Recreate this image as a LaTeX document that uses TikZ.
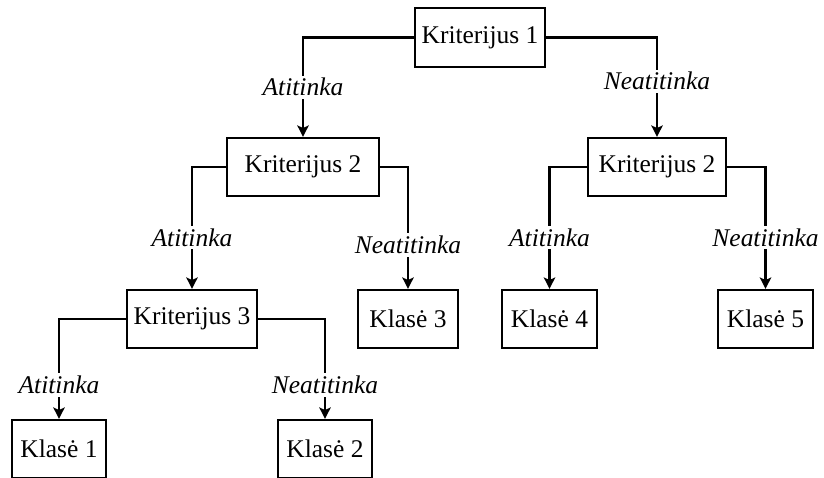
\documentclass[tikz,border=0pt]{standalone}
\usepackage{fontspec}
\setmainfont{Liberation Serif}
\usetikzlibrary{arrows.meta}

\tikzset{
  box/.style={draw, line width=1.3pt, minimum height=1.16cm, inner sep=0pt,
    font=\fontsize{14.5}{17}\selectfont},
  lbl/.style={fill=white, inner sep=1.5pt, font=\fontsize{14.5}{17}\selectfont\itshape},
  arr/.style={line width=1.3pt, -{Stealth[length=6.5pt,width=6.5pt,inset=1.5pt]}},
}

\begin{document}
\begin{tikzpicture}[x=0.02cm, y=-0.02cm]
    \useasboundingbox (0,0) rectangle (824,477);
    % criteria
    \node[box, minimum width=2.6cm, minimum height=1.18cm] (k1) at (480,37.5) {Kriterijus 1};
    \node[box, minimum width=3.04cm] (k2a) at (303,167) {Kriterijus 2};
    \node[box, minimum width=2.76cm] (k2b) at (657,167) {Kriterijus 2};
    \node[box, minimum width=2.6cm] (k3) at (192,319) {Kriterijus 3};
    % classes
    \node[box, minimum width=1.88cm] (c1) at (59,449) {Klasė 1};
    \node[box, minimum width=1.88cm] (c2) at (325,449) {Klasė 2};
    \node[box, minimum width=2cm] (c3) at (408,319) {Klasė 3};
    \node[box, minimum width=1.9cm] (c4) at (549.5,319) {Klasė 4};
    \node[box, minimum width=1.9cm] (c5) at (765.5,319) {Klasė 5};
    % branches
    \draw[arr] (k1.west) -| node[lbl, pos=0.75] {Atitinka} (k2a.north);
    \draw[arr] (k1.east) -| node[lbl, pos=0.72] {Neatitinka} (k2b.north);
    \draw[arr] (k2a.west) -| node[lbl, pos=0.79] {Atitinka} (k3.north);
    \draw[arr] (k2a.east) -| node[lbl, pos=0.82] {Neatitinka} (c3.north);
    \draw[arr] (k2b.west) -| node[lbl, pos=0.79] {Atitinka} (c4.north);
    \draw[arr] (k2b.east) -| node[lbl, pos=0.79] {Neatitinka} (c5.north);
    \draw[arr] (k3.west) -| node[lbl, pos=0.83] {Atitinka} (c1.north);
    \draw[arr] (k3.east) -| node[lbl, pos=0.83] {Neatitinka} (c2.north);
\end{tikzpicture}
\end{document}
